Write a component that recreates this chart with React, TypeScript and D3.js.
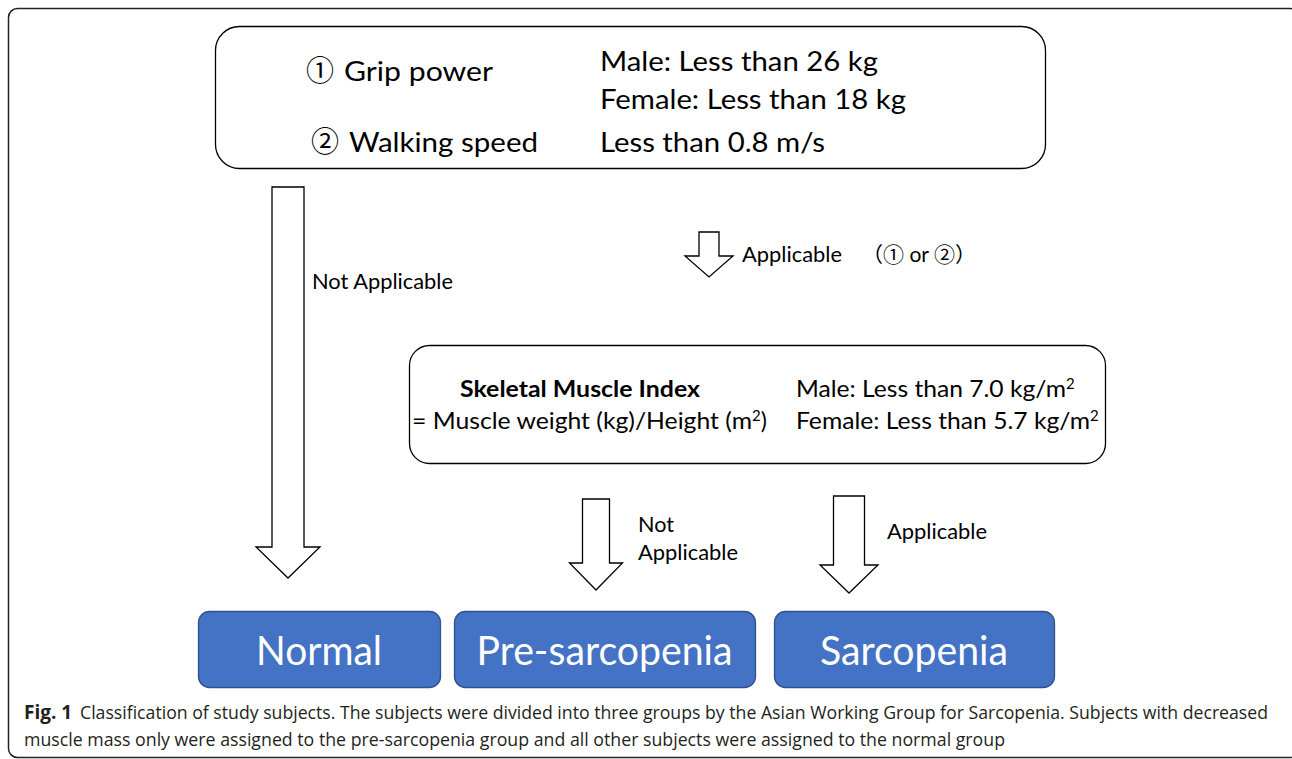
import React from "react";
import * as d3 from "d3";

// ---- content ----
const criteriaMarks = ["①", "②"];
const criteriaNames = ["Grip power", "Walking speed"];
const gripThresholds = ["Male: Less than 26 kg", "Female: Less than 18 kg"];
const walkThresholds = ["Less than 0.8 m/s"];
const smiLeft = ["Skeletal Muscle Index", "= Muscle weight (kg)/Height (m"];
const smiRight = ["Male: Less than 7.0 kg/m", "Female: Less than 5.7 kg/m"];
const groups = ["Normal", "Pre-sarcopenia", "Sarcopenia"];
const firstStepLabels = ["Not Applicable", "Applicable"];
const orLabel = ["（", "①", " or ", "②", "）"];
const secondStepLabels = ["Not", "Applicable", "Applicable"];
const captionBold = "Fig. 1";
const captionLines = [
  "Classification of study subjects. The subjects were divided into three groups by the Asian Working Group for Sarcopenia. Subjects with decreased",
  "muscle mass only were assigned to the pre-sarcopenia group and all other subjects were assigned to the normal group",
];

const W = 1292;
const H = 759;
const FONT = "Lato, 'Open Sans', sans-serif";
const CJK = "'Noto Sans CJK JP', 'Noto Sans CJK SC', sans-serif";
const CAP_FONT = "'Open Sans', 'Noto Sans', sans-serif";

type ArrowSpec = { cx: number; shaftW: number; top: number; headY: number; headW: number; tip: number };

function arrowPath(a: ArrowSpec) {
  const line = d3.line<[number, number]>();
  const pts: [number, number][] = [
    [a.cx - a.shaftW / 2, a.top],
    [a.cx + a.shaftW / 2, a.top],
    [a.cx + a.shaftW / 2, a.headY],
    [a.cx + a.headW / 2, a.headY],
    [a.cx, a.tip],
    [a.cx - a.headW / 2, a.headY],
    [a.cx - a.shaftW / 2, a.headY],
  ];
  return line(pts) + "Z";
}

const T = ({ x, y, size, children, len, anchor = "start", weight = 400, fill = "#000", font = FONT }: any) => (
  <text
    x={x}
    y={y}
    fontSize={size}
    fontFamily={font}
    fontWeight={weight}
    fill={fill}
    textAnchor={anchor}
    textLength={len}
    lengthAdjust={len ? "spacingAndGlyphs" : undefined}
  >
    {children}
  </text>
);

export default function App() {
  const arrows: ArrowSpec[] = [
    { cx: 288, shaftW: 32, top: 187, headY: 547, headW: 64, tip: 578 },
    { cx: 709, shaftW: 20, top: 232, headY: 256, headW: 48, tip: 277 },
    { cx: 596, shaftW: 27, top: 499, headY: 563, headW: 53, tip: 590 },
    { cx: 849, shaftW: 31, top: 496, headY: 565, headW: 58, tip: 593 },
  ];
  const boxes = [
    { x: 198, w: 242 },
    { x: 454, w: 301 },
    { x: 774, w: 280 },
  ];
  const groupLen = [126, 256, 188];

  return (
    <svg width={W} height={H} style={{ position: "absolute", left: 0, top: 0 }}>
      <rect x={0} y={0} width={W} height={H} fill="#fff" />
      {/* outer frame */}
      <rect x={8.5} y={8.5} width={1290} height={749} rx={9} fill="none" stroke="#222" strokeWidth={1.5} />

      {/* top criteria box */}
      <rect x={215.5} y={26.5} width={830} height={142} rx={24} fill="#fff" stroke="#000" strokeWidth={1.3} />
      <T x={306} y={81} size={28} font={CJK}>{criteriaMarks[0]}</T>
      <T x={344} y={81} size={27} len={149}>{criteriaNames[0]}</T>
      <T x={311} y={152} size={28} font={CJK}>{criteriaMarks[1]}</T>
      <T x={349} y={152} size={27} len={189}>{criteriaNames[1]}</T>
      <T x={600} y={71} size={27} len={278}>{gripThresholds[0]}</T>
      <T x={600} y={109} size={27} len={306}>{gripThresholds[1]}</T>
      <T x={600} y={152} size={27} len={225}>{walkThresholds[0]}</T>

      {/* arrows */}
      {arrows.map((a, i) => (
        <path key={i} d={arrowPath(a)} fill="#fff" stroke="#000" strokeWidth={1.3} strokeLinejoin="miter" />
      ))}
      <T x={312} y={289} size={21} len={141}>{firstStepLabels[0]}</T>
      <T x={742} y={262} size={21} len={100}>{firstStepLabels[1]}</T>
      <text x={862} y={262} fontSize={21} fontFamily={CJK} fill="#000">
        <tspan>{orLabel[0]}</tspan>
        <tspan>{orLabel[1]}</tspan>
        <tspan fontFamily={FONT}>{orLabel[2]}</tspan>
        <tspan>{orLabel[3]}</tspan>
        <tspan>{orLabel[4]}</tspan>
      </text>

      {/* SMI box */}
      <rect x={409.5} y={345.5} width={696} height={118} rx={20} fill="#fff" stroke="#000" strokeWidth={1.3} />
      <T x={460} y={397} size={23} weight={700} len={240}>{smiLeft[0]}</T>
      <text x={412} y={429} fontSize={23} fontFamily={FONT} fill="#000">
        <tspan textLength={340} lengthAdjust="spacingAndGlyphs">{smiLeft[1]}</tspan>
        <tspan fontSize={15} dy={-8}>2</tspan>
        <tspan dy={8}>)</tspan>
      </text>
      <text x={796} y={397} fontSize={23} fontFamily={FONT} fill="#000">
        <tspan textLength={270} lengthAdjust="spacingAndGlyphs">{smiRight[0]}</tspan>
        <tspan fontSize={15} dy={-8}>2</tspan>
      </text>
      <text x={796} y={429} fontSize={23} fontFamily={FONT} fill="#000">
        <tspan textLength={294} lengthAdjust="spacingAndGlyphs">{smiRight[1]}</tspan>
        <tspan fontSize={15} dy={-8}>2</tspan>
      </text>

      <T x={638} y={532} size={21} len={36}>{secondStepLabels[0]}</T>
      <T x={638} y={560} size={21} len={100}>{secondStepLabels[1]}</T>
      <T x={887} y={539} size={21} len={100}>{secondStepLabels[2]}</T>

      {/* group boxes */}
      {boxes.map((b, i) => (
        <g key={groups[i]}>
          <rect x={b.x + 0.5} y={611.5} width={b.w} height={76} rx={11} fill="#4472C4" stroke="#2F528F" strokeWidth={1.3} />
          <T x={b.x + b.w / 2} y={665} size={40} anchor="middle" fill="#fff" len={groupLen[i]}>{groups[i]}</T>
        </g>
      ))}

      {/* caption */}
      <T x={24} y={719} size={19} font={CAP_FONT} weight={700} fill="#231F20">{captionBold}</T>
      <T x={80} y={719} size={17.5} font={CAP_FONT} fill="#231F20" len={1188}>{captionLines[0]}</T>
      <T x={24} y={746} size={17.5} font={CAP_FONT} fill="#231F20" len={981}>{captionLines[1]}</T>
    </svg>
  );
}
